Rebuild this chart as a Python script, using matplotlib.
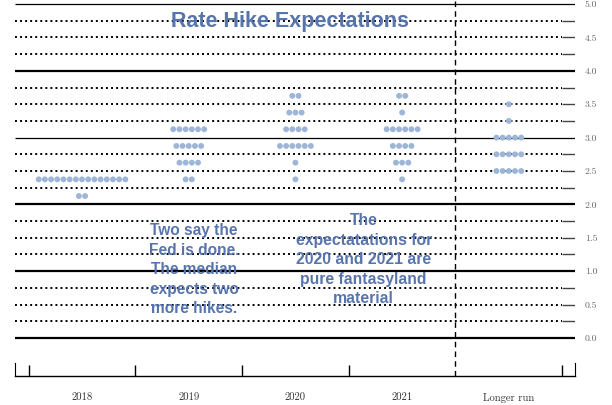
import matplotlib
matplotlib.use('Agg')
import matplotlib.pyplot as plt
import numpy as np

# data
categories = ['2018', '2019', '2020', '2021', 'Longer run']
dots = {
    '2018': {2.375: 15, 2.125: 2},
    '2019': {3.125: 6, 2.875: 5, 2.625: 4, 2.375: 2},
    '2020': {3.625: 2, 3.375: 3, 3.125: 4, 2.875: 6, 2.625: 1, 2.375: 1},
    '2021': {3.625: 2, 3.375: 1, 3.125: 6, 2.875: 4, 2.625: 3, 2.375: 1},
    'Longer run': {3.5: 1, 3.25: 1, 3.0: 5, 2.75: 5, 2.5: 5},
}
ytick_vals = [0.0, 0.5, 1.0, 1.5, 2.0, 2.5, 3.0, 3.5, 4.0, 4.5, 5.0]
title = 'Rate Hike Expectations'
note_left = 'Two say the\nFed is done.\nThe median\nexpects two\nmore hikes.'
note_right = 'The\nexpectatations for\n2020 and 2021 are\npure fantasyland\nmaterial'

dot_color = '#9db6d8'
text_color = '#5874ad'
step = 0.058

fig = plt.figure(figsize=(6.12, 4.05), dpi=100)
ax = fig.add_axes([14.8 / 612, 29 / 405, (575 - 14.8) / 612, 376 / 405])
xmin, xmax = -0.63, 4.62
ymin, ymax = -0.569, 5.06
ax.set_xlim(xmin, xmax)
ax.set_ylim(ymin, ymax)

# horizontal grid: solid at integers, dotted at quarters
for v in np.arange(0, 5.01, 0.25):
    if abs(v - round(v)) < 1e-9:
        lw = 0.9 if v in (3.0, 5.0) else 1.6
        ax.hlines(v, xmin, xmax, colors='black', linewidth=lw, zorder=1)
    else:
        ax.hlines(v, xmin, 4.5, colors='black', linewidth=1.4,
                  linestyles=(0, (1.0, 1.6)), zorder=1)
        ax.hlines(v, 4.5, xmax, colors='#444444', linewidth=1.0, zorder=1)

# separator between projections and longer run
ax.axvline(3.5, color='black', linewidth=1.0, linestyle=(0, (4, 3)), zorder=1)

for i, cat in enumerate(categories):
    for yv, n in dots[cat].items():
        xs = i + (np.arange(n) - (n - 1) / 2) * step
        ax.scatter(xs, [yv] * n, s=18, color=dot_color, edgecolors='none', zorder=3)

# axes decoration
ax.spines['top'].set_visible(False)
ax.spines['bottom'].set_linewidth(1.0)
ax.spines['left'].set_bounds(ymin, ymin + 0.2)
ax.spines['right'].set_bounds(ymin, ymin + 0.2)

ax.set_xticks([-0.5, 0.5, 1.5, 2.5, 4.5])
ax.set_xticklabels([])
ax.tick_params(axis='x', which='major', direction='in', length=8, width=1.0)
ax.set_xticks(range(len(categories)), minor=True)
ax.set_xticklabels(categories, minor=True, fontfamily='cmr10', fontsize=7.7, color='#333333')
ax.tick_params(axis='x', which='minor', length=0, pad=12)

ax.yaxis.tick_right()
ax.set_yticks(ytick_vals)
ax.set_yticklabels(['%.1f' % v for v in ytick_vals], fontfamily='cmr10', fontsize=7, color='#666666')
ax.tick_params(axis='y', length=0, pad=7)

ax.text(1.95, 4.74, title, ha='center', va='center', fontsize=15.5, fontweight='bold',
        family='Liberation Sans', color=text_color, zorder=4)
ax.text(1.05, 1.02, note_left, ha='center', va='center', fontsize=11.2, fontweight='bold',
        family='Liberation Sans', color=text_color, linespacing=1.38, zorder=4)
ax.text(2.64, 1.17, note_right, ha='center', va='center', fontsize=11.3, fontweight='bold',
        family='Liberation Sans', color=text_color, linespacing=1.38, zorder=4)

fig.savefig('out.png', dpi=100)
plt.close(fig)
